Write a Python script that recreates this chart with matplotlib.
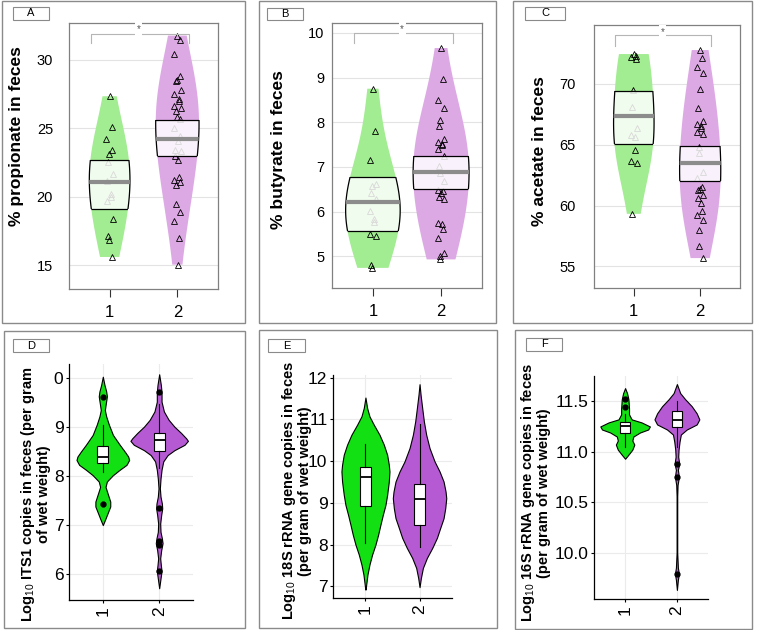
import matplotlib.pyplot as plt
import numpy as np
from matplotlib.patches import Rectangle, PathPatch

plt.rcParams['font.family'] = ['Liberation Sans', 'DejaVu Sans']
plt.rcParams['mathtext.fontset'] = 'custom'
plt.rcParams['mathtext.rm'] = 'Liberation Sans'

groups = [1, 2]
top_colors = ['#A2EC92', '#DDA9E5']
bottom_colors = ['#12E012', '#B55AD2']

# ---- top row: individual samples (triangles), mean and inference band ----
propionate = [
    [27.35, 25.08, 24.23, 23.40, 23.16, 22.52, 21.70, 21.19, 20.21, 19.99,
     19.68, 18.39, 17.12, 16.88, 15.61],
    [31.78, 31.44, 30.44, 28.81, 28.56, 28.44, 27.83, 27.52, 27.18, 26.98,
     26.66, 26.49, 26.25, 25.84, 25.71, 25.03, 24.42, 24.06, 23.45, 23.33,
     23.01, 22.72, 21.43, 21.26, 21.06, 20.89, 19.51, 18.90, 18.22, 17.00, 15.05],
]
propionate_mean = [21.09, 24.23]
propionate_lo = [19.12, 23.01]
propionate_hi = [22.72, 25.59]

butyrate = [
    [8.75, 7.81, 7.15, 6.62, 6.58, 6.42, 6.28, 6.01, 5.84, 5.76, 5.50, 5.46,
     4.81, 4.74],
    [9.66, 8.97, 8.49, 8.31, 8.06, 7.91, 7.63, 7.55, 7.51, 7.48, 7.39, 7.24,
     7.01, 6.87, 6.68, 6.49, 6.46, 6.42, 6.33, 6.28, 5.75, 5.72, 5.61, 5.41,
     5.07, 5.00, 4.93],
]
butyrate_mean = [6.21, 6.89]
butyrate_lo = [5.56, 6.51]
butyrate_hi = [6.78, 7.24]

acetate = [
    [72.46, 72.30, 72.19, 72.08, 69.51, 68.14, 66.36, 65.81, 65.62, 64.58,
     63.68, 63.48, 59.32],
    [72.79, 72.11, 71.42, 70.88, 69.56, 68.06, 66.99, 66.72, 66.55, 66.36,
     66.09, 65.87, 64.85, 64.36, 62.80, 62.25, 61.51, 61.40, 61.24, 60.88,
     60.61, 60.25, 59.54, 59.24, 58.83, 57.96, 56.64, 55.68],
]
acetate_mean = [67.37, 63.54]
acetate_lo = [65.07, 62.06]
acetate_hi = [69.43, 64.91]

# ---- bottom row: violin outlines (value, half width) and box statistics ----
its1_y = [
    [10.03, 9.86, 9.73, 9.63, 9.49, 9.35, 9.22, 9.05, 8.84, 8.64, 8.50, 8.40,
     8.33, 8.23, 8.13, 8.02, 7.89, 7.78, 7.65, 7.48, 7.38, 7.24, 7.10, 7.00],
    [10.08, 9.86, 9.71, 9.52, 9.32, 9.15, 9.01, 8.88, 8.77, 8.72, 8.64, 8.53,
     8.43, 8.30, 8.13, 7.95, 7.75, 7.58, 7.44, 7.34, 7.21, 7.03, 6.86, 6.73,
     6.63, 6.49, 6.32, 6.18, 6.06, 5.91, 5.71],
]
its1_dens = [
    [0, .03, .06, .072, .054, .036, .06, .108, .18, .30, .39, .45, .467, .42,
     .30, .18, .072, .048, .084, .132, .132, .084, .036, 0],
    [0, .03, .042, .042, .084, .168, .27, .39, .48, .51, .45, .27, .15, .072,
     .042, .024, .012, .024, .048, .054, .036, .018, .024, .048, .06, .036,
     .018, .03, .042, .024, 0],
]
its1_q1 = [8.26, 8.51]
its1_med = [8.40, 8.73]
its1_q3 = [8.62, 8.89]
its1_whislo = [8.09, 8.16]
its1_whishi = [9.05, 9.47]
its1_out = [[9.62, 7.43], [9.71, 7.34, 6.67, 6.60, 6.06]]

s18_y = [
    [11.52, 11.27, 11.07, 10.87, 10.63, 10.39, 10.15, 9.91, 9.75, 9.51, 9.19,
     8.95, 8.71, 8.48, 8.24, 8.00, 7.76, 7.52, 7.28, 6.96, 6.92],
    [11.84, 11.59, 11.27, 10.95, 10.63, 10.31, 9.99, 9.75, 9.51, 9.27, 9.11,
     8.87, 8.63, 8.40, 8.16, 7.92, 7.68, 7.44, 7.20, 6.98],
]
s18_dens = [
    [0, .031, .074, .154, .259, .340, .401, .432, .444, .432, .401, .370,
     .321, .278, .235, .185, .123, .074, .037, .006, 0],
    [0, .019, .049, .080, .123, .185, .278, .370, .444, .481, .494, .475,
     .444, .383, .321, .235, .136, .062, .025, 0],
]
s18_q1 = [8.93, 8.48]
s18_med = [9.61, 9.10]
s18_q3 = [9.85, 9.45]
s18_whislo = [8.04, 7.93]
s18_whishi = [10.41, 10.88]
s18_out = [[], []]

s16_y = [
    [11.63, 11.58, 11.52, 11.43, 11.37, 11.32, 11.29, 11.25, 11.22, 11.19,
     11.15, 11.11, 11.07, 11.02, 10.97, 10.93],
    [11.67, 11.58, 11.52, 11.45, 11.38, 11.32, 11.27, 11.22, 11.17, 11.10,
     11.02, 10.95, 10.88, 10.82, 10.75, 10.67, 10.56, 10.0, 9.85, 9.79, 9.73,
     9.63],
]
s16_dens = [
    [0, .038, .064, .076, .076, .127, .318, .478, .446, .287, .159, .140,
     .178, .140, .064, 0],
    [0, .064, .159, .287, .382, .433, .382, .191, .076, .051, .032, .025,
     .045, .019, .038, .013, .006, .006, .019, .038, .019, 0],
]
s16_q1 = [11.19, 11.24]
s16_med = [11.25, 11.31]
s16_q3 = [11.29, 11.40]
s16_whislo = [11.05, 11.05]
s16_whishi = [11.37, 11.50]
s16_out = [[11.52, 11.44], [10.88, 10.75, 9.79]]

W, H = 757, 630
fig = plt.figure(figsize=(W / 100, H / 100), dpi=100)


def px_axes(x0, y0, x1, y1):
    return fig.add_axes([x0 / W, 1 - y1 / H, (x1 - x0) / W, (y1 - y0) / H])


def frame(x0, y0, x1, y1, label, lx0, ly0, lx1, ly1):
    fig.add_artist(Rectangle((x0 / W, 1 - y1 / H), (x1 - x0) / W, (y1 - y0) / H,
                             transform=fig.transFigure, fill=False,
                             ec='#8a8a8a', lw=1))
    fig.add_artist(Rectangle((lx0 / W, 1 - ly1 / H), (lx1 - lx0) / W, (ly1 - ly0) / H,
                             transform=fig.transFigure, fill=False,
                             ec='#8a8a8a', lw=0.8))
    fig.text((lx0 + lx1) / 2 / W, 1 - (ly0 + ly1) / 2 / H, label,
             ha='center', va='center', fontsize=8)


def pirate(ax, data, means, lo, hi, widths, ylim, yticks, ypad, sig):
    parts = ax.violinplot(data, positions=groups, widths=widths,
                          showextrema=False, bw_method=0.8)
    for i, body in enumerate(parts['bodies']):
        body.set_facecolor(top_colors[i])
        body.set_edgecolor('none')
        body.set_alpha(1)
        body.set_zorder(1)
        path = body.get_paths()[0]
        vals = data[i]
        xs = groups[i] + 0.05 * np.sin(np.arange(len(vals)) * 2.4)
        ax.plot(xs, vals, ls='none', marker='^', ms=4, mfc='none',
                mec='black', mew=0.6, zorder=2)
        band = Rectangle((groups[i] - 0.6, lo[i]), 1.2, hi[i] - lo[i],
                         fc='white', ec='none', alpha=0.85, zorder=3)
        ax.add_patch(band)
        band.set_clip_path(path, ax.transData)
        edge = Rectangle((groups[i] - 0.6, lo[i]), 1.2, hi[i] - lo[i],
                         fill=False, ec='black', lw=0.9, zorder=4)
        ax.add_patch(edge)
        edge.set_clip_path(path, ax.transData)
        side = PathPatch(path, fill=False, ec='black', lw=0.9, zorder=4,
                         transform=ax.transData)
        ax.add_patch(side)
        side.set_clip_path(band)
        ln, = ax.plot([groups[i] - 0.6, groups[i] + 0.6], [means[i], means[i]],
                      color='#8c8c8c', lw=3, zorder=5, solid_capstyle='butt')
        ln.set_clip_path(path, ax.transData)
    y_tick, y_line, y_star = sig
    ax.plot([0.72, 0.72, 2.17, 2.17], [y_tick, y_line, y_line, y_tick],
            color='#b5b5b5', lw=0.8, zorder=2, clip_on=False)
    ax.text(1.43, y_star, '*', ha='center', va='center', fontsize=7,
            color='#555555', zorder=6,
            bbox=dict(fc='white', ec='none', pad=1.2))
    ax.set_xlim(0.4, 2.6)
    ax.set_ylim(*ylim)
    ax.set_yticks(yticks)
    ax.set_xticks(groups)
    ax.grid(axis='y', color='#e3e3e3', lw=0.8)
    ax.set_axisbelow(True)
    for s in ax.spines.values():
        s.set_color('#808080')
        s.set_linewidth(0.9)
    ax.tick_params(axis='y', length=0, pad=ypad, labelsize=10.5)
    ax.tick_params(axis='x', length=5.5, width=0.8, color='#333333', pad=6,
                   labelsize=12)


def ggviolin(ax, ys, dens, q1, med, q3, wlo, whi, out, ylim, yticks, ylabels):
    for i, g in enumerate(groups):
        y = np.array(ys[i])
        hw = np.array(dens[i])
        ax.fill_betweenx(y, g - hw, g + hw, fc=bottom_colors[i], ec='black',
                         lw=0.8, zorder=2)
    stats = [dict(q1=q1[i], med=med[i], q3=q3[i], whislo=wlo[i],
                  whishi=whi[i], fliers=out[i]) for i in range(2)]
    ax.bxp(stats, positions=groups, widths=0.2, patch_artist=True,
           showcaps=False, manage_ticks=False,
           boxprops=dict(facecolor='white', edgecolor='black', lw=0.8),
           medianprops=dict(color='black', lw=1.3),
           whiskerprops=dict(color='black', lw=0.8),
           flierprops=dict(marker='o', mfc='black', mec='black', ms=3.5),
           zorder=3)
    ax.set_xlim(0.4, 2.6)
    ax.set_ylim(*ylim)
    ax.set_xticks(groups)
    ax.set_yticks(yticks)
    ax.set_yticklabels(ylabels)
    ax.grid(color='#ebebeb', lw=0.8)
    ax.set_axisbelow(True)
    ax.spines['top'].set_visible(False)
    ax.spines['right'].set_visible(False)
    for s in ['left', 'bottom']:
        ax.spines[s].set_linewidth(0.9)
    ax.tick_params(axis='both', length=2.5, width=0.8, labelsize=12.5, pad=1.5)
    ax.tick_params(axis='x', labelrotation=90, pad=2)


# panel frames
frame(2, 1, 245, 323, 'A', 13, 7, 49, 20)
frame(259, 1, 496, 323, 'B', 267, 8, 303, 20)
frame(513, 1, 752, 323, 'C', 525, 7, 565, 20)
frame(4, 331, 245, 628, 'D', 13, 339, 49, 352)
frame(259, 330, 497, 628, 'E', 268, 339, 305, 352)
frame(515, 330, 752, 629, 'F', 526, 338, 562, 351)

axA = px_axes(69, 23, 218, 289)
pirate(axA, propionate, propionate_mean, propionate_lo, propionate_hi,
       [0.6, 0.64], (13.27, 32.70), [15, 20, 25, 30], 11.5,
       (31.24, 31.92, 32.26))
axB = px_axes(332, 23, 482, 288)
pirate(axB, butyrate, butyrate_mean, butyrate_lo, butyrate_hi,
       [0.8, 0.82], (4.29, 10.22), [5, 6, 7, 8, 9, 10], 5.5,
       (9.78, 10.0, 10.09))
axC = px_axes(594, 25, 740, 288)
pirate(axC, acetate, acetate_mean, acetate_lo, acetate_hi,
       [0.61, 0.62], (53.22, 74.85), [55, 60, 65, 70], 13,
       (73.12, 74.02, 74.3))

fig.text(17 / W, 1 - 136 / H, '% propionate in feces', rotation=90,
         ha='center', va='center', fontsize=12.5, fontweight='bold')
fig.text(278 / W, 1 - 150 / H, '% butyrate in feces', rotation=90,
         ha='center', va='center', fontsize=12.5, fontweight='bold')
fig.text(539 / W, 1 - 151 / H, '% acetate in feces', rotation=90,
         ha='center', va='center', fontsize=12.5, fontweight='bold')

axD = px_axes(69, 364, 193, 600)
ggviolin(axD, its1_y, its1_dens, its1_q1, its1_med, its1_q3, its1_whislo,
         its1_whishi, its1_out, (5.47, 10.29), [6, 7, 8, 9, 10],
         ['6', '7', '8', '9', '0'])
axE = px_axes(333, 375, 452, 598)
ggviolin(axE, s18_y, s18_dens, s18_q1, s18_med, s18_q3, s18_whislo,
         s18_whishi, s18_out, (6.72, 12.06), [7, 8, 9, 10, 11, 12],
         ['7', '8', '9', '10', '11', '12'])
axF = px_axes(594, 376, 708, 599)
ggviolin(axF, s16_y, s16_dens, s16_q1, s16_med, s16_q3, s16_whislo,
         s16_whishi, s16_out, (9.54, 11.75), [10.0, 10.5, 11.0, 11.5],
         ['10.0', '10.5', '11.0', '11.5'])

fig.text(35 / W, 1 - 494 / H,
         'Log$_{10}$ ITS1 copies in feces (per gram\nof wet weight)',
         rotation=90, ha='center', va='center', ma='center', fontsize=10.5,
         fontweight='bold', linespacing=1.05)
fig.text(296 / W, 1 - 491 / H,
         'Log$_{10}$ 18S rRNA gene copies in feces\n(per gram of wet weight)',
         rotation=90, ha='center', va='center', ma='center', fontsize=10.5,
         fontweight='bold', linespacing=1.05)
fig.text(535 / W, 1 - 493 / H,
         'Log$_{10}$ 16S rRNA gene copies in feces\n(per gram of wet weight)',
         rotation=90, ha='center', va='center', ma='center', fontsize=10.5,
         fontweight='bold', linespacing=1.05)

fig.savefig('out.png', dpi=100)
